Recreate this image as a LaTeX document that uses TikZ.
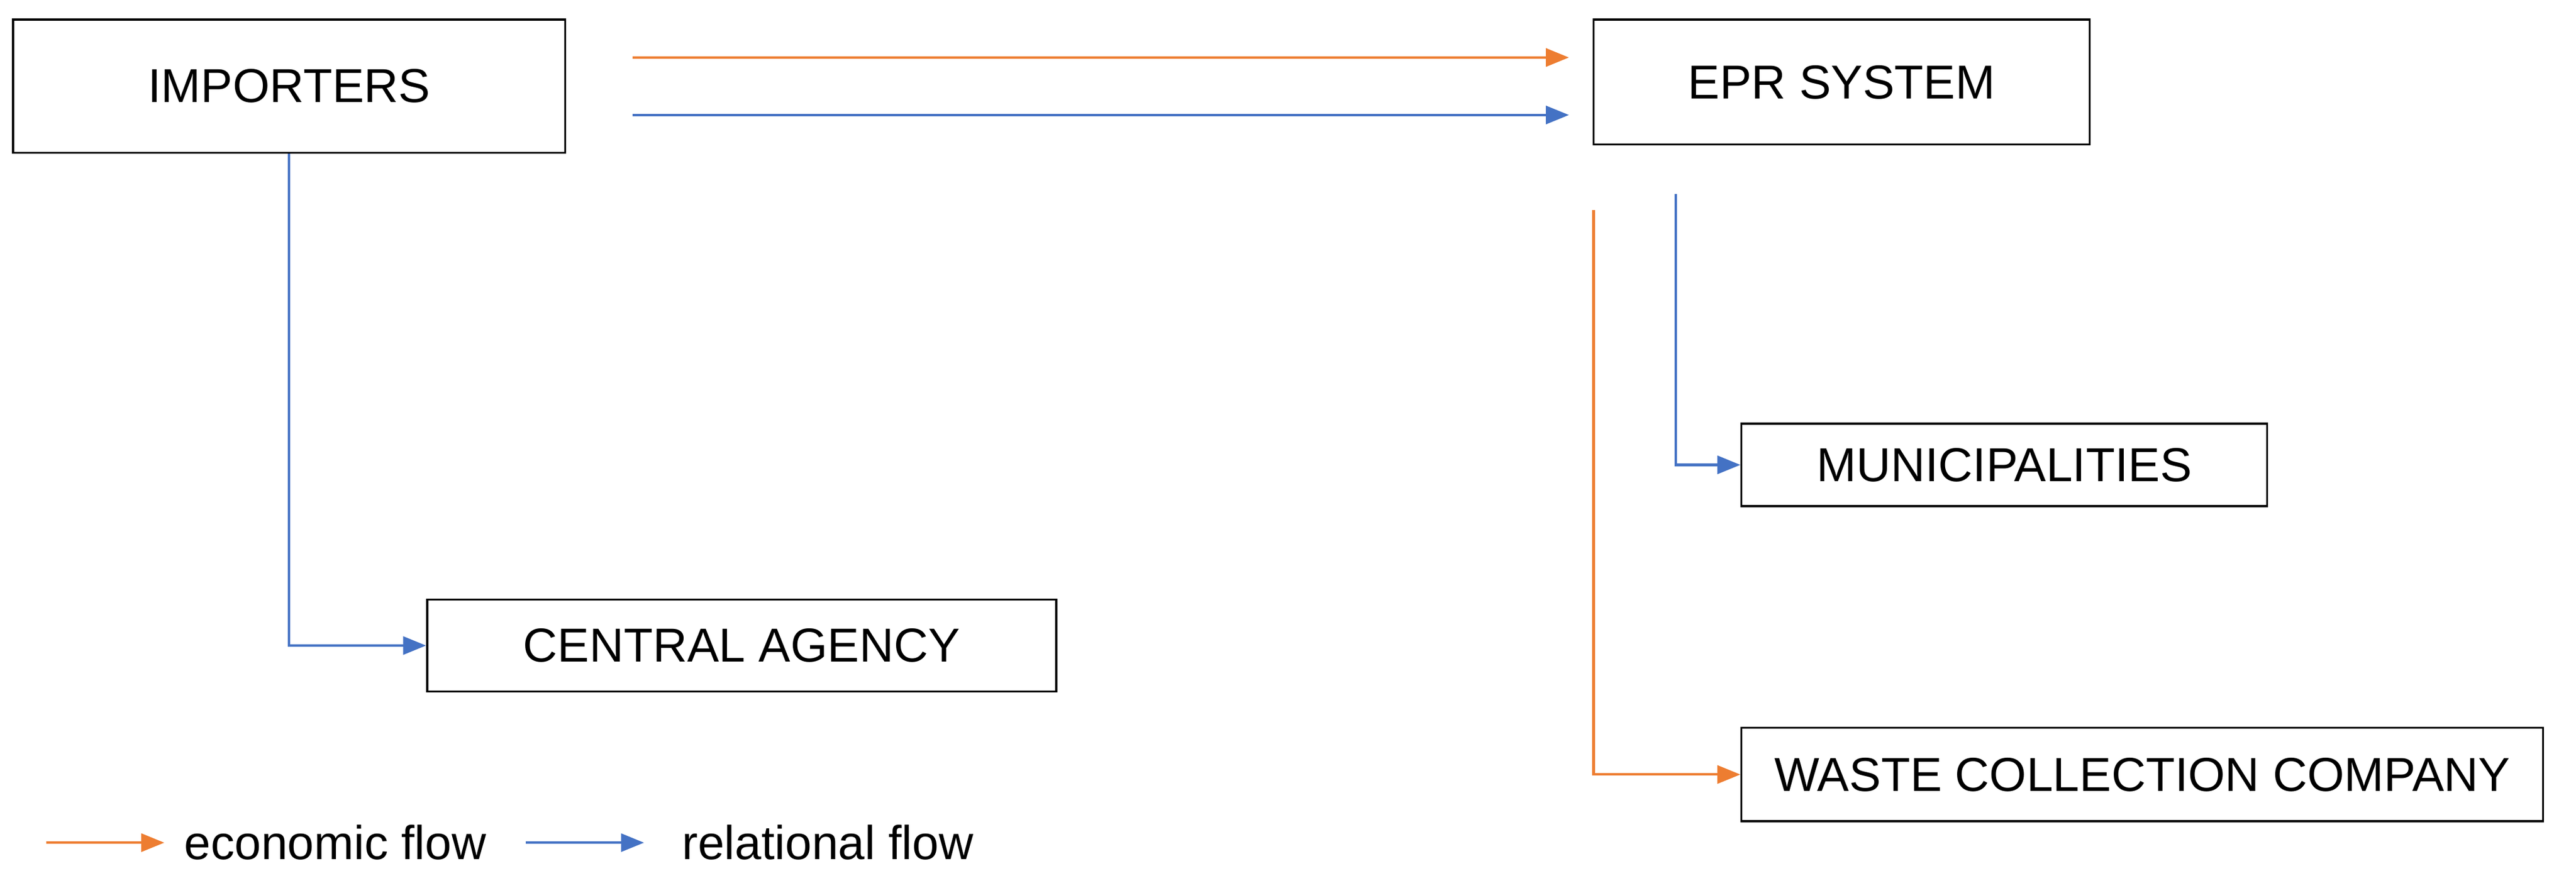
\documentclass[tikz,border=0pt]{standalone}
\usepackage{fontspec}
\setmainfont{Liberation Sans}
\usetikzlibrary{arrows.meta}
\definecolor{eco}{HTML}{ED7D31}
\definecolor{rel}{HTML}{4472C4}
\begin{document}
\begin{tikzpicture}[x=1pt,y=-1pt,
  box/.style={draw=black,line width=1.3pt,fill=white,inner sep=0pt,font=\fontsize{29}{33}\selectfont},
  flow/.style={line width=1.5pt,-{Triangle[length=14pt,width=11pt]}},
  lab/.style={font=\fontsize{29}{33}\selectfont,anchor=west,inner sep=0pt}]
\useasboundingbox (0,0) rectangle (1568,530);
\node[box,minimum width=336pt,minimum height=81pt] (imp) at (176,52.5) {IMPORTERS};
\node[box,minimum width=302pt,minimum height=76pt] (epr) at (1121,50) {EPR SYSTEM};
\node[box,minimum width=320pt,minimum height=50pt] (mun) at (1220,283) {MUNICIPALITIES};
\node[box,minimum width=383pt,minimum height=56pt] (cen) at (451.5,393) {CENTRAL AGENCY};
\node[box,minimum width=488pt,minimum height=57pt] (was) at (1304,471.5) {WASTE COLLECTION COMPANY};
\coordinate (o1) at (385,35); \coordinate (o2) at (955,35);
\coordinate (b1) at (385,70); \coordinate (b2) at (955,70);
\draw[flow,eco] (o1) -- (o2);
\draw[flow,rel] (b1) -- (b2);
\draw[flow,rel] (imp.south) |- (cen.west);
\coordinate (m0) at (1020,118);
\draw[flow,rel] (m0) |- (mun.west);
\coordinate (w0) at (970,128);
\draw[flow,eco] (w0) |- (was.west);
\coordinate (l1) at (28,513); \coordinate (l2) at (100,513);
\coordinate (l3) at (320,513); \coordinate (l4) at (392,513);
\draw[flow,eco] (l1) -- (l2);
\draw[flow,rel] (l3) -- (l4);
\node[lab] (le) at (112,513) {economic flow};
\node[lab] (lr) at (415,513) {relational flow};
\end{tikzpicture}
\end{document}
